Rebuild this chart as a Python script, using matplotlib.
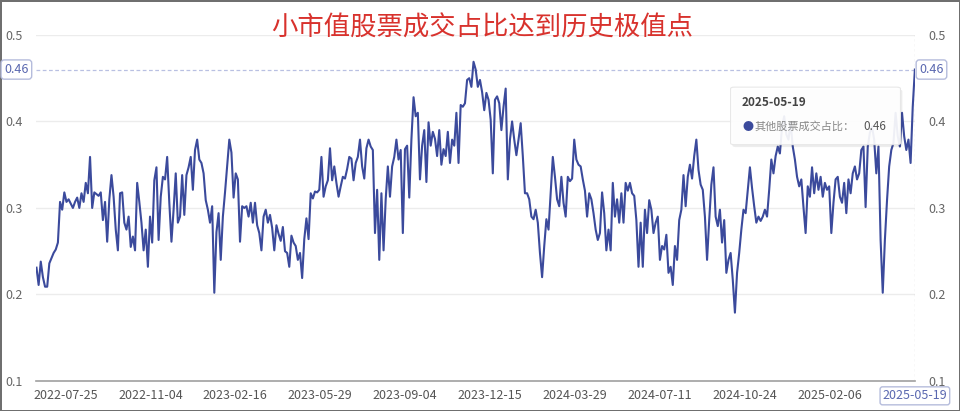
import matplotlib
matplotlib.use("Agg")
import matplotlib.pyplot as plt
from matplotlib.patches import FancyBboxPatch
import numpy as np

plt.rcParams['font.family'] = ['Noto Sans CJK SC', 'DejaVu Sans']

title = "小市值股票成交占比达到历史极值点"
series_name = "其他股票成交占比"
tick_dates = ["2022-07-25", "2022-11-04", "2023-02-16", "2023-05-29", "2023-09-04",
              "2023-12-15", "2024-03-29", "2024-07-11", "2024-10-24", "2025-02-06",
              "2025-05-19"]
last_date = "2025-05-19"
last_value = 0.46

# values, left to right
values = [
    0.231, 0.211, 0.238, 0.220, 0.209, 0.209, 0.236, 0.242, 0.248, 0.252, 0.260, 0.307,
    0.298, 0.318, 0.307, 0.310, 0.305, 0.300, 0.307, 0.312, 0.300, 0.317, 0.307, 0.329,
    0.317, 0.359, 0.300, 0.318, 0.316, 0.314, 0.318, 0.286, 0.307, 0.261, 0.310, 0.338,
    0.313, 0.275, 0.251, 0.317, 0.318, 0.283, 0.275, 0.290, 0.255, 0.267, 0.251, 0.329,
    0.307, 0.283, 0.251, 0.275, 0.232, 0.290, 0.260, 0.332, 0.347,
    0.263, 0.313, 0.336, 0.333, 0.359, 0.306, 0.261, 0.298, 0.340, 0.283, 0.290, 0.338,
    0.292, 0.338, 0.347, 0.359, 0.321, 0.367, 0.379, 0.356, 0.352, 0.340, 0.309, 0.298,
    0.283, 0.302, 0.202, 0.272, 0.294, 0.240, 0.290, 0.318, 0.349, 0.379, 0.364, 0.312,
    0.340, 0.333, 0.261, 0.302, 0.300, 0.302, 0.290, 0.306, 0.283, 0.306, 0.280, 0.271,
    0.251, 0.290, 0.298, 0.283, 0.292, 0.277, 0.251,
    0.280, 0.270, 0.262, 0.278, 0.250, 0.248, 0.232, 0.268, 0.260, 0.256, 0.240, 0.248,
    0.219, 0.264, 0.288, 0.264, 0.317, 0.311, 0.319, 0.318, 0.321, 0.359, 0.313, 0.325,
    0.332, 0.369, 0.332, 0.348, 0.329, 0.313, 0.325, 0.336, 0.334, 0.345, 0.359, 0.357,
    0.332, 0.352, 0.359, 0.379, 0.348, 0.334, 0.369, 0.379, 0.371, 0.367, 0.271, 0.321,
    0.240, 0.317, 0.251, 0.310, 0.348, 0.313, 0.348, 0.359, 0.379, 0.356, 0.367,
    0.271, 0.368, 0.372, 0.312, 0.379, 0.428, 0.406, 0.410, 0.333, 0.372, 0.390, 0.330,
    0.399, 0.372, 0.388, 0.380, 0.360, 0.390, 0.350, 0.368, 0.360, 0.388, 0.352,
    0.379, 0.372, 0.410, 0.352, 0.419, 0.417, 0.421, 0.448, 0.450, 0.440, 0.469, 0.460,
    0.440, 0.448, 0.434, 0.413, 0.433, 0.425, 0.402, 0.340, 0.425, 0.429, 0.421, 0.390,
    0.417, 0.438, 0.333, 0.379, 0.400, 0.379, 0.361, 0.379, 0.398, 0.360, 0.317,
    0.317, 0.310, 0.290, 0.287, 0.298, 0.283, 0.248, 0.220, 0.256, 0.287, 0.275, 0.317,
    0.359, 0.336, 0.310, 0.302, 0.336, 0.306, 0.290, 0.336, 0.331, 0.334, 0.379, 0.356,
    0.350, 0.348, 0.333, 0.320, 0.290, 0.317, 0.310, 0.294, 0.275, 0.263, 0.271, 0.318,
    0.294, 0.251, 0.275, 0.251, 0.329, 0.290, 0.310, 0.283, 0.317, 0.283, 0.329, 0.320,
    0.329, 0.317, 0.314, 0.286, 0.232, 0.283, 0.232, 0.298,
    0.271, 0.309, 0.298, 0.271, 0.283, 0.290, 0.240, 0.256, 0.252, 0.269, 0.225, 0.232,
    0.211, 0.256, 0.240, 0.286, 0.298, 0.338, 0.302, 0.336, 0.350, 0.334, 0.360, 0.379,
    0.344, 0.327, 0.321, 0.290, 0.240, 0.286, 0.327, 0.347, 0.290, 0.279,
    0.298, 0.260, 0.286, 0.225, 0.240, 0.248, 0.217, 0.179, 0.225, 0.248, 0.275,
    0.298, 0.294, 0.321, 0.347, 0.323, 0.302, 0.283,
    0.290, 0.285, 0.290, 0.298, 0.290, 0.321, 0.356, 0.340, 0.360, 0.371, 0.363, 0.394,
    0.406, 0.385, 0.379, 0.398, 0.371, 0.356, 0.336, 0.325, 0.333, 0.301, 0.271, 0.325,
    0.313, 0.347, 0.317, 0.340, 0.321, 0.336, 0.313, 0.329, 0.321, 0.325, 0.271, 0.306,
    0.333, 0.336, 0.313, 0.306, 0.329, 0.294, 0.333, 0.317, 0.340, 0.348, 0.333, 0.340,
    0.367, 0.371, 0.301, 0.371, 0.387, 0.394, 0.379, 0.340, 0.371, 0.263, 0.202, 0.263,
    0.309, 0.348, 0.367, 0.375, 0.410, 0.383, 0.371, 0.410, 0.383, 0.367, 0.379,
    0.352, 0.417, 0.460,
]

line_color = "#3b4a9c"
n = len(values)
x = np.arange(n)

fig = plt.figure(figsize=(9.6, 4.11), dpi=100)
fig.patch.set_facecolor("white")
fig.patch.set_edgecolor("#6f6f6f")
fig.patch.set_linewidth(2)

ax = fig.add_axes([0.038, 0.073, 0.915, 0.842])
ax.plot(x, values, color=line_color, linewidth=1.5, zorder=3)

ax.set_xlim(0, n - 1)
ax.set_ylim(0.1, 0.5)
yt = [0.1, 0.2, 0.3, 0.4, 0.5]
ax.set_yticks(yt)
ax.set_yticklabels([str(v) for v in yt])
ax.grid(axis="y", color="#ececec", linewidth=1)
ax.set_axisbelow(True)
for s in ["top", "left", "right"]:
    ax.spines[s].set_visible(False)
ax.spines["bottom"].set_color("#a0a0a0")
ax.spines["bottom"].set_linewidth(1.2)
ax.tick_params(axis="y", length=0, labelsize=9, labelcolor="#666666",
               labelleft=True, labelright=True, pad=10)
ax.tick_params(axis="x", length=0, labelsize=9, labelcolor="#555555", pad=6)

# category ticks, evenly spaced and ending on the last point
step = (n - 1) * 0.0967
pos = [(n - 1) - step * k for k in range(len(tick_dates) - 1, -1, -1)]
ax.set_xticks(pos)
labels = ax.set_xticklabels(tick_dates)
labels[-1].set_color("#5a68b0")
labels[-1].set_bbox(dict(boxstyle="round,pad=0.2", fc="white", ec="#b5bcdc", lw=1))

# crosshair at the last point
ax.axhline(last_value, color="#b9c0e2", linestyle=(0, (3, 2)), linewidth=0.9, zorder=2)
ax.axvline(n - 1, color="#c8c8c8", linestyle=(0, (2, 2)), linewidth=0.9, zorder=2)
box = dict(boxstyle="round,pad=0.25", fc="white", ec="#b5bcdc", lw=1)
ax.text(-0.009, last_value, "0.46", transform=ax.get_yaxis_transform(), ha="right",
        va="center", fontsize=9, color="#5a68b0", bbox=box, zorder=5)
ax.text(1.005, last_value, "0.46", transform=ax.get_yaxis_transform(), ha="left",
        va="center", fontsize=9, color="#5a68b0", bbox=box, zorder=5)

# title
fig.text(0.502, 0.932, title, ha="center", va="center", fontsize=19, color="#d8322d")

# tooltip
shadow = FancyBboxPatch((0.767, 0.646), 0.169, 0.132, boxstyle="round,pad=0.004",
                        transform=fig.transFigure, fc="#000000", ec="none", alpha=0.07,
                        zorder=8)
tip = FancyBboxPatch((0.765, 0.652), 0.169, 0.132, boxstyle="round,pad=0.004",
                     transform=fig.transFigure, fc="white", ec="#e6e6e6", lw=0.8,
                     alpha=0.92, zorder=9)
fig.patches.extend([shadow, tip])
fig.text(0.773, 0.750, last_date, fontsize=8.5, fontweight="bold", color="#444444",
         va="center", zorder=10)
fig.text(0.773, 0.692, "●", fontsize=8, color=line_color, va="center", zorder=10)
fig.text(0.786, 0.692, series_name + "：", fontsize=8, color="#888888", va="center",
         zorder=10)
fig.text(0.899, 0.692, "0.46", fontsize=8.5, color="#555555", va="center", zorder=10)

fig.savefig("out.png", dpi=100)
